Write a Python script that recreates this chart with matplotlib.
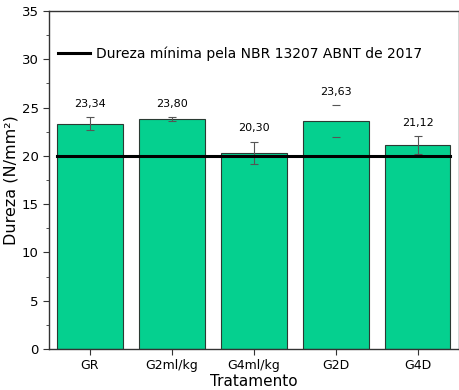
import numpy as np
import matplotlib
matplotlib.use("Agg")
import matplotlib.pyplot as plt
from matplotlib.ticker import MultipleLocator

# data
tratamentos = ["GR", "G2ml/kg", "G4ml/kg", "G2D", "G4D"]
dureza = [23.34, 23.80, 20.30, 23.63, 21.12]
erro = [0.65, 0.22, 1.15, 1.63, 0.95]
show_line = [True, True, True, False, True]
labels = ["23,34", "23,80", "20,30", "23,63", "21,12"]
nbr_min = 20

plt.rcParams['font.family'] = ['DejaVu Sans']

fig = plt.figure(figsize=(4.6, 3.9), dpi=100)
ax = fig.add_axes([0.1065, 0.105, 0.8905, 0.867])

x = np.arange(len(tratamentos))
w = 0.8
ax.bar(x, dureza, width=w, color="#05D08F", edgecolor="#2b3a33", linewidth=0.8, zorder=2)

for xi, d, e, s in zip(x, dureza, erro, show_line):
    ax.errorbar(xi, d, yerr=e, fmt="none", ecolor="#555555",
                elinewidth=0.8 if s else 0, capsize=3, capthick=0.8, zorder=3)

for xi, d, e, lab in zip(x, dureza, erro, labels):
    ax.annotate(lab, (xi, d + e), xytext=(0, 6), textcoords="offset points",
                ha="center", va="bottom", fontsize=8)

ax.plot([x[0] - w / 2, x[-1] + w / 2], [nbr_min, nbr_min], color="black", lw=2.2,
        zorder=4, label="Dureza mínima pela NBR 13207 ABNT de 2017")

ax.set_xlim(-0.5, len(tratamentos) - 0.5)
ax.set_ylim(0, 35)
ax.set_xticks(x)
ax.set_xticklabels(tratamentos, fontsize=9)
ax.yaxis.set_major_locator(MultipleLocator(5))
ax.yaxis.set_minor_locator(MultipleLocator(2.5))
ax.tick_params(axis="y", labelsize=9.5, direction="out", length=4, color="#333333")
ax.tick_params(axis="y", which="minor", length=2.5, color="#333333")
ax.tick_params(axis="x", direction="out", length=4, color="#333333")
for sp in ax.spines.values():
    sp.set_color("#333333")
    sp.set_linewidth(1.0)

ax.set_xlabel("Tratamento", fontsize=11, labelpad=1)
ax.set_ylabel("Dureza (N/mm²)", fontsize=11.5, labelpad=2)

ax.legend(loc="upper left", bbox_to_anchor=(-0.008, 0.933), frameon=False, fontsize=10,
          handlelength=2.3, handletextpad=0.4)

fig.savefig("out.png", dpi=100)
